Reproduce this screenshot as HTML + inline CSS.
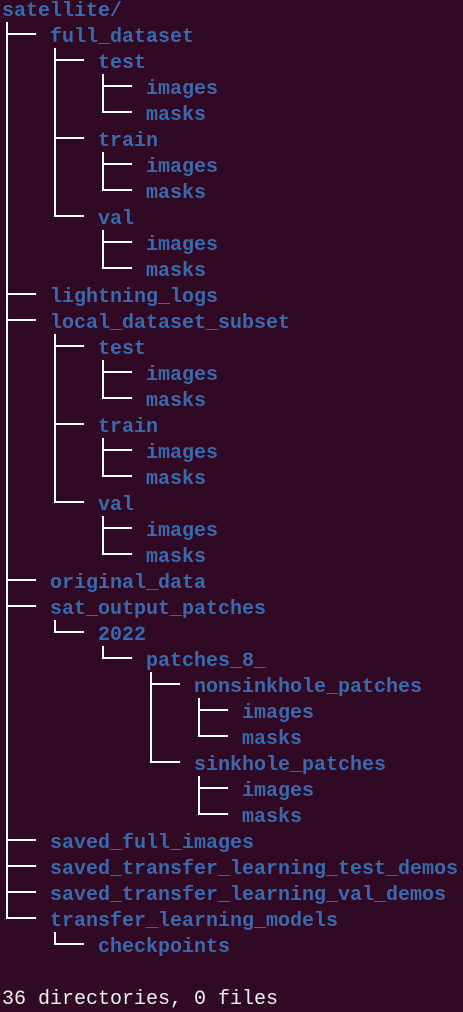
<!DOCTYPE html>
<html><head><meta charset="utf-8"><style>
html,body{margin:0;padding:0;background:#300a24;width:463px;height:1012px;overflow:hidden}
#c{position:relative;width:463px;height:1012px}
.t{position:absolute;font-family:"Liberation Mono","DejaVu Sans Mono",monospace;font-size:20px;line-height:26px;font-weight:bold;color:#3a69ad;white-space:pre}
.s{color:#eeeeec;font-weight:normal}
svg{position:absolute;left:0;top:0}
</style></head><body><div id="c"><svg id="g" width="463" height="1012"></svg></div>
<script>
var tree=["satellite/",[
 ["full_dataset",[["test",[["images"],["masks"]]],["train",[["images"],["masks"]]],["val",[["images"],["masks"]]]]],
 ["lightning_logs"],
 ["local_dataset_subset",[["test",[["images"],["masks"]]],["train",[["images"],["masks"]]],["val",[["images"],["masks"]]]]],
 ["original_data"],
 ["sat_output_patches",[["2022",[["patches_8_",[["nonsinkhole_patches",[["images"],["masks"]]],["sinkhole_patches",[["images"],["masks"]]]]]]]]],
 ["saved_full_images"],
 ["saved_transfer_learning_test_demos"],
 ["saved_transfer_learning_val_demos"],
 ["transfer_learning_models",[["checkpoints"]]]
]];
var c=document.getElementById('c'),g=document.getElementById('g'),row=0,svg='';
function txt(s,x,r,cls){var d=document.createElement('div');d.className='t'+(cls?' '+cls:'');d.style.left=x+'px';d.style.top=(26*r-1)+'px';d.textContent=s;c.appendChild(d);}
function line(x1,y1,x2,y2){svg+='<line x1="'+x1+'" y1="'+y1+'" x2="'+x2+'" y2="'+y2+'" stroke="#fff" stroke-width="2"/>';}
function walk(n,d){var r=row;txt(n[0],2+48*d,r);row++;
 if(n[1]){var vx=7+48*d,last=0;
  n[1].forEach(function(ch){var cr=row;var hy=8+26*cr;line(vx-1,hy,vx+29,hy);last=hy;walk(ch,d+1);});
  line(vx,26*r+22,vx,last+1);}
}
walk(tree,0);
g.innerHTML=svg;
txt("36 directories, 0 files",2,38,'s');
</script></body></html>
